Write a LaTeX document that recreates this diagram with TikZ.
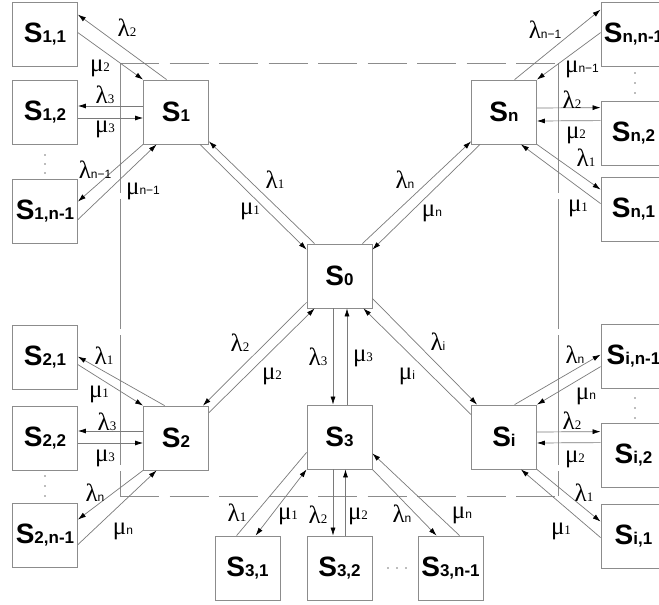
\documentclass[tikz,border=0pt]{standalone}
\usepackage{fontspec}
\setmainfont{Liberation Sans}
\newfontfamily\gkf{Liberation Serif}
\usetikzlibrary{arrows.meta,calc}
\definecolor{bx}{HTML}{8C8C8C}
\definecolor{ln}{HTML}{7A7A7A}
\newcommand\stlab[1]{{\fontsize{28}{28}\selectfont\bfseries S}{\fontsize{17}{17}\selectfont\bfseries #1}}
\newcommand\gd[2]{{\gkf\fontsize{25}{25}\selectfont #1}{\gkf\fontsize{13}{13}\selectfont #2}}
\newcommand\gn[2]{{\gkf\fontsize{25}{25}\selectfont #1}{\fontsize{12}{12}\selectfont #2}}
\tikzset{
  state/.style={draw=bx, line width=0.8pt, minimum width=65pt, minimum height=64pt, inner sep=0pt, fill=white},
  con/.style={draw=ln, line width=0.7pt},
  arr/.style={con, -{Latex[length=8pt,width=5pt,color=black]}},
  arrboth/.style={con, {Latex[length=8pt,width=5pt,color=black]}-{Latex[length=8pt,width=5pt,color=black]}},
  lab/.style={inner sep=0pt},
  dotmark/.style={circle, fill=ln, inner sep=0pt, minimum size=1.6pt},
  hframe/.style={draw=bx, line width=0.7pt, dash pattern=on 39pt off 10.5pt},
  vframe/.style={draw=bx, line width=0.7pt, dash pattern=on 130pt off 6pt}
}
\begin{document}
\begin{tikzpicture}[x=1pt,y=-1pt]
\useasboundingbox (0,0) rectangle (659,605);
\clip (0,0) rectangle (659,605);
% dashed frame
\coordinate (ftl) at (120,63);
\coordinate (ftr) at (558,63);
\coordinate (fbl) at (120,496);
\coordinate (fbr) at (558,496);
\draw[hframe] (ftl) -- (ftr);
\draw[hframe] (fbl) -- (fbr);
\draw[vframe] (ftl) -- (fbl);
\draw[vframe] (ftr) -- (fbr);
% states
\node[state] (s0) at (339.5,276) {\stlab{0}};
\node[state] (s1) at (176,112) {\stlab{1}};
\node[state] (s11) at (45,34) {\stlab{1,1}};
\node[state] (s12) at (45,112) {\stlab{1,2}};
\node[state] (s1n) at (45,211) {\stlab{1,n-1}};
\node[state] (sn) at (504,112) {\stlab{n}};
\node[state] (snn) at (633.5,34) {\stlab{n,n-1}};
\node[state] (sn2) at (633.5,133) {\stlab{n,2}};
\node[state] (sn1) at (633.5,209) {\stlab{n,1}};
\node[state] (s2) at (176,438) {\stlab{2}};
\node[state] (s21) at (45,357) {\stlab{2,1}};
\node[state] (s22) at (45,438) {\stlab{2,2}};
\node[state] (s2n) at (45,535) {\stlab{2,n-1}};
\node[state] (s3) at (339.5,437) {\stlab{3}};
\node[state] (s31) at (247.5,568) {\stlab{3,1}};
\node[state] (s32) at (339.5,568) {\stlab{3,2}};
\node[state] (s3n) at (450.5,568) {\stlab{3,n-1}};
\node[state] (si) at (504,437) {\stlab{i}};
\node[state] (sin) at (633.5,356) {\stlab{i,n-1}};
\node[state] (si2) at (633.5,455) {\stlab{i,2}};
\node[state] (si1) at (633.5,536) {\stlab{i,1}};
% S0 connections
\draw[arr] ($(s0.north west)+(8,0)$) -- ($(s1.south east)+(0,-3)$);
\draw[arr] ($(s1.south east)+(-9,0)$) -- ($(s0.north west)+(0,6)$);
\draw[arr] ($(s0.north east)+(-10,0)$) -- ($(sn.south west)+(0,-3)$);
\draw[arr] ($(sn.south west)+(9,0)$) -- ($(s0.north east)+(0,6)$);
\draw[arr] ($(s0.south west)+(0,-6)$) -- ($(s2.north east)+(-6,0)$);
\draw[arr] ($(s2.north east)+(0,7)$) -- ($(s0.south west)+(8,0)$);
\draw[arr] ($(s0.south)+(-6.5,0)$) -- ($(s3.north)+(-6.5,0)$);
\draw[arr] ($(s3.north)+(7.5,0)$) -- ($(s0.south)+(7.5,0)$);
\draw[arr] ($(s0.south east)+(0,-10)$) -- ($(si.north west)+(6,0)$);
\draw[arr] ($(si.north west)+(0,10)$) -- ($(s0.south east)+(-9,0)$);
% S3 children
\draw[con] ($(s3.south west)+(0,-17)$) -- ($(s31.north west)+(22,0)$);
\draw[arrboth] ($(s31.north west)+(41,0)$) -- (s3.south west);
\draw[arr] ($(s3.south)+(-6.5,0)$) -- ($(s32.north)+(-6.5,0)$);
\draw[arr] ($(s32.north)+(6,0)$) -- ($(s3.south)+(6,0)$);
\draw[arr] (s3.south east) -- ($(s3n.north west)+(19,0)$);
\draw[arr] ($(s3n.north west)+(42,0)$) -- ($(s3.south east)+(0,-16)$);
% S1 children
\draw[arr] ($(s1.north west)+(23.5,0)$) -- ($(s11.north east)+(0,13)$);
\draw[arr] ($(s11.north east)+(0,31)$) -- (s1.north west);
\draw[arr] ($(s1.west)+(0,-6)$) -- ($(s12.east)+(0,-6)$);
\draw[arr] ($(s12.east)+(0,6)$) -- ($(s1.west)+(0,6)$);
\draw[arr] (s1.south west) -- ($(s1n.north east)+(0,23)$);
\draw[arr] ($(s1n.north east)+(0,41)$) -- ($(s1.south west)+(13.5,0)$);
% Sn children
\draw[arr] ($(sn.north west)+(43.5,0)$) -- ($(snn.north west)+(0,8)$);
\draw[arr] ($(snn.north west)+(0,31)$) -- (sn.north east);
\draw[arr] ($(sn.east)+(0,-4)$) -- ($(sn2.north west)+(0,7)$);
\draw[arr] ($(sn2.north west)+(0,20)$) -- ($(sn.east)+(0,9)$);
\draw[arr] (sn.south east) -- ($(sn1.north west)+(0,13)$);
\draw[arr] ($(sn1.north west)+(0,27)$) -- ($(sn.south east)+(-16,0)$);
% S2 children
\draw[arr] ($(s2.north west)+(21.5,0)$) -- ($(s21.north east)+(0,32)$);
\draw[arr] ($(s21.north east)+(0,40)$) -- (s2.north west);
\draw[arr] ($(s2.west)+(0,-7)$) -- ($(s22.east)+(0,-7)$);
\draw[arr] ($(s22.east)+(0,5)$) -- ($(s2.west)+(0,5)$);
\draw[arr] (s2.south west) -- ($(s2n.north east)+(0,17)$);
\draw[arr] ($(s2n.north east)+(0,42)$) -- ($(s2.south west)+(13.5,0)$);
% Si children
\draw[arr] ($(si.north west)+(43.5,0)$) -- ($(sin.north west)+(0,31)$);
\draw[arr] ($(sin.north west)+(0,43)$) -- (si.north east);
\draw[arr] ($(si.east)+(0,-5)$) -- ($(si2.north west)+(0,9)$);
\draw[arr] ($(si2.north west)+(0,20)$) -- ($(si.east)+(0,6)$);
\draw[arr] (si.south east) -- ($(si1.north west)+(0,18)$);
\draw[arr] ($(si1.north west)+(0,34)$) -- ($(si.south east)+(-16,0)$);
% labels S0
\node[lab] (l01) at (275,180) {\gd{λ}{1}};
\node[lab] (m01) at (250,211) {\gd{μ}{1}};
\node[lab] (l0n) at (405,180) {\gn{λ}{n}};
\node[lab] (m0n) at (432,213) {\gn{μ}{n}};
\node[lab] (l02) at (240,343) {\gd{λ}{2}};
\node[lab] (m02) at (272,376) {\gd{μ}{2}};
\node[lab] (l03) at (318,357) {\gd{λ}{3}};
\node[lab] (m03) at (363,358) {\gd{μ}{3}};
\node[lab] (l0i) at (438,342) {\gn{λ}{i}};
\node[lab] (m0i) at (407,376) {\gn{μ}{i}};
% labels S3
\node[lab] (l31) at (237,513) {\gd{λ}{1}};
\node[lab] (m31) at (288,516) {\gd{μ}{1}};
\node[lab] (l32) at (318,515) {\gd{λ}{2}};
\node[lab] (m32) at (358,516) {\gd{μ}{2}};
\node[lab] (l3n) at (402,514) {\gn{λ}{n}};
\node[lab] (m3n) at (462,515) {\gn{μ}{n}};
% labels S1
\node[lab] (l12) at (127,28) {\gd{λ}{2}};
\node[lab] (m12) at (100,68) {\gd{μ}{2}};
\node[lab] (l13) at (105,95) {\gd{λ}{3}};
\node[lab] (m13) at (105,129) {\gd{μ}{3}};
\node[lab] (l1n) at (95,170) {\gn{λ}{n−1}};
\node[lab] (m1n) at (143,191) {\gn{μ}{n−1}};
% labels Sn
\node[lab] (lnn) at (545,30) {\gn{λ}{n−1}};
\node[lab] (mnn) at (582,69) {\gn{μ}{n−1}};
\node[lab] (ln2) at (572,100) {\gd{λ}{2}};
\node[lab] (mn2) at (576,135) {\gd{μ}{2}};
\node[lab] (ln1) at (586,158) {\gd{λ}{1}};
\node[lab] (mn1) at (578,208) {\gd{μ}{1}};
% labels S2
\node[lab] (l21) at (104,356) {\gd{λ}{1}};
\node[lab] (m21) at (99,394) {\gd{μ}{1}};
\node[lab] (l23) at (107,422) {\gd{λ}{3}};
\node[lab] (m23) at (105,458) {\gd{μ}{3}};
\node[lab] (l2n) at (95,493) {\gn{λ}{n}};
\node[lab] (m2n) at (123,531) {\gn{μ}{n}};
% labels Si
\node[lab] (lin) at (575,355) {\gn{λ}{n}};
\node[lab] (min) at (586,396) {\gn{μ}{n}};
\node[lab] (li2) at (572,421) {\gd{λ}{2}};
\node[lab] (mi2) at (575,459) {\gd{μ}{2}};
\node[lab] (li1) at (584,493) {\gd{λ}{1}};
\node[lab] (mi1) at (561,531) {\gd{μ}{1}};
% ellipsis dots
\node[dotmark] (da1) at (45,155) {};
\node[dotmark] (da2) at (45,164) {};
\node[dotmark] (da3) at (45,173) {};
\node[dotmark] (db1) at (45,476) {};
\node[dotmark] (db2) at (45,486) {};
\node[dotmark] (db3) at (45,496) {};
\node[dotmark] (dc1) at (635,73) {};
\node[dotmark] (dc2) at (635,83) {};
\node[dotmark] (dc3) at (635,93) {};
\node[dotmark] (dd1) at (635,398) {};
\node[dotmark] (dd2) at (635,408) {};
\node[dotmark] (dd3) at (635,418) {};
\node[dotmark] (de1) at (388,568) {};
\node[dotmark] (de2) at (397,568) {};
\node[dotmark] (de3) at (406,568) {};
\end{tikzpicture}
\end{document}
